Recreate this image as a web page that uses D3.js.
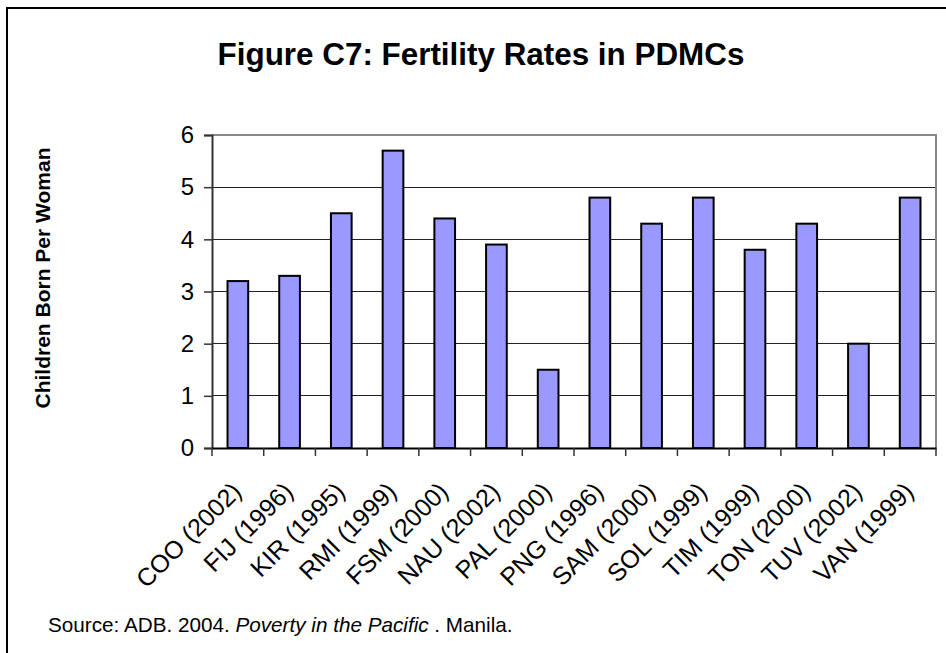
<!DOCTYPE html>
<html>
<head>
<meta charset="utf-8">
<script src="https://cdn.jsdelivr.net/npm/d3@7"></script>
<style>
  html, body { margin: 0; padding: 0; background: #fff; }
  svg { display: block; }
  text { font-family: Arial, "Liberation Sans", sans-serif; fill: #000; }
</style>
</head>
<body>
<svg id="chart" width="946" height="653"></svg>
<script>
const categories = ["COO (2002)", "FIJ (1996)", "KIR (1995)", "RMI (1999)", "FSM (2000)", "NAU (2002)", "PAL (2000)",
                    "PNG (1996)", "SAM (2000)", "SOL (1999)", "TIM (1999)", "TON (2000)", "TUV (2002)", "VAN (1999)"];
const values = [3.2, 3.3, 4.5, 5.7, 4.4, 3.9, 1.5, 4.8, 4.3, 4.8, 3.8, 4.3, 2.0, 4.8];
const yTicks = [0, 1, 2, 3, 4, 5, 6];
const titleText = "Figure C7: Fertility Rates in PDMCs";
const yAxisTitle = "Children Born Per Woman";

const svg = d3.select("#chart");
const pLeft = 212, pRight = 936, pTop = 135, pBottom = 448;

// outer border (left and top visible)
svg.append("path").attr("d", "M7,660 L7,8 L960,8").attr("fill", "none").attr("stroke", "#000").attr("stroke-width", 2);

const x = d3.scaleBand().domain(categories).range([pLeft, pRight]).paddingInner(0).paddingOuter(0);
const y = d3.scaleLinear().domain([0, 6]).range([pBottom, pTop]);

// gridlines
svg.append("g").selectAll("line").data(yTicks.filter(d => d > 0 && d < 6)).join("line")
  .attr("x1", pLeft).attr("x2", pRight)
  .attr("y1", d => y(d)).attr("y2", d => y(d))
  .attr("stroke", "#222").attr("stroke-width", 1).attr("shape-rendering", "crispEdges");

// plot frame top & right (grey)
svg.append("path").attr("d", `M${pLeft},${pTop} L${pRight},${pTop} L${pRight},${pBottom}`)
  .attr("fill", "none").attr("stroke", "#888").attr("stroke-width", 2);

// bars
const bw = x.bandwidth() * 0.4;
svg.append("g").selectAll("rect").data(values).join("rect")
  .attr("x", (d, i) => x(categories[i]) + x.bandwidth() / 2 - bw / 2)
  .attr("width", bw)
  .attr("y", d => y(d))
  .attr("height", d => pBottom - y(d))
  .attr("fill", "#9999FF").attr("stroke", "#000").attr("stroke-width", 2);

// y axis
const yAxis = d3.axisLeft(y).tickValues(yTicks).tickSize(8).tickPadding(10).tickFormat(d3.format("d"));
const gy = svg.append("g").attr("transform", `translate(${pLeft},0)`).call(yAxis);
gy.select(".domain").attr("stroke", "#333").attr("stroke-width", 2);
gy.selectAll(".tick line").attr("stroke", "#333").attr("stroke-width", 1.5);
gy.selectAll(".tick text").attr("font-size", 24).attr("font-family", "Arial, 'Liberation Sans', sans-serif").attr("fill", "#000");

// x axis
const xAxis = d3.axisBottom(x).tickSize(0).tickFormat("");
const gx = svg.append("g").attr("transform", `translate(0,${pBottom})`).call(xAxis);
gx.select(".domain").attr("stroke", "#000").attr("stroke-width", 2);
gx.selectAll(".tick").remove();
// category boundary ticks
const boundaries = categories.map(c => x(c)).concat([pRight]);
svg.append("g").selectAll("line").data(boundaries).join("line")
  .attr("x1", d => d).attr("x2", d => d)
  .attr("y1", pBottom).attr("y2", pBottom + 8)
  .attr("stroke", "#333").attr("stroke-width", 1.5);

// x labels
svg.append("g").selectAll("text").data(categories).join("text")
  .attr("transform", d => `translate(${x(d) + x.bandwidth() / 2 + 5},${pBottom + 45}) rotate(-45)`)
  .attr("text-anchor", "end")
  .attr("font-size", 25)
  .text(d => d);

// title
svg.append("text").attr("x", 481).attr("y", 65).attr("text-anchor", "middle")
  .attr("font-size", 31.4).attr("font-weight", "bold").text(titleText);

// y axis title
svg.append("text").attr("transform", `translate(50,278) rotate(-90)`).attr("text-anchor", "middle")
  .attr("font-size", 21).attr("font-weight", "bold").text(yAxisTitle);

// source
const src = svg.append("text").attr("x", 48).attr("y", 632).attr("font-size", 20.7);
src.append("tspan").text("Source: ADB. 2004. ");
src.append("tspan").attr("font-style", "italic").text("Poverty in the Pacific");
src.append("tspan").text(" . Manila.");
</script>
</body>
</html>
